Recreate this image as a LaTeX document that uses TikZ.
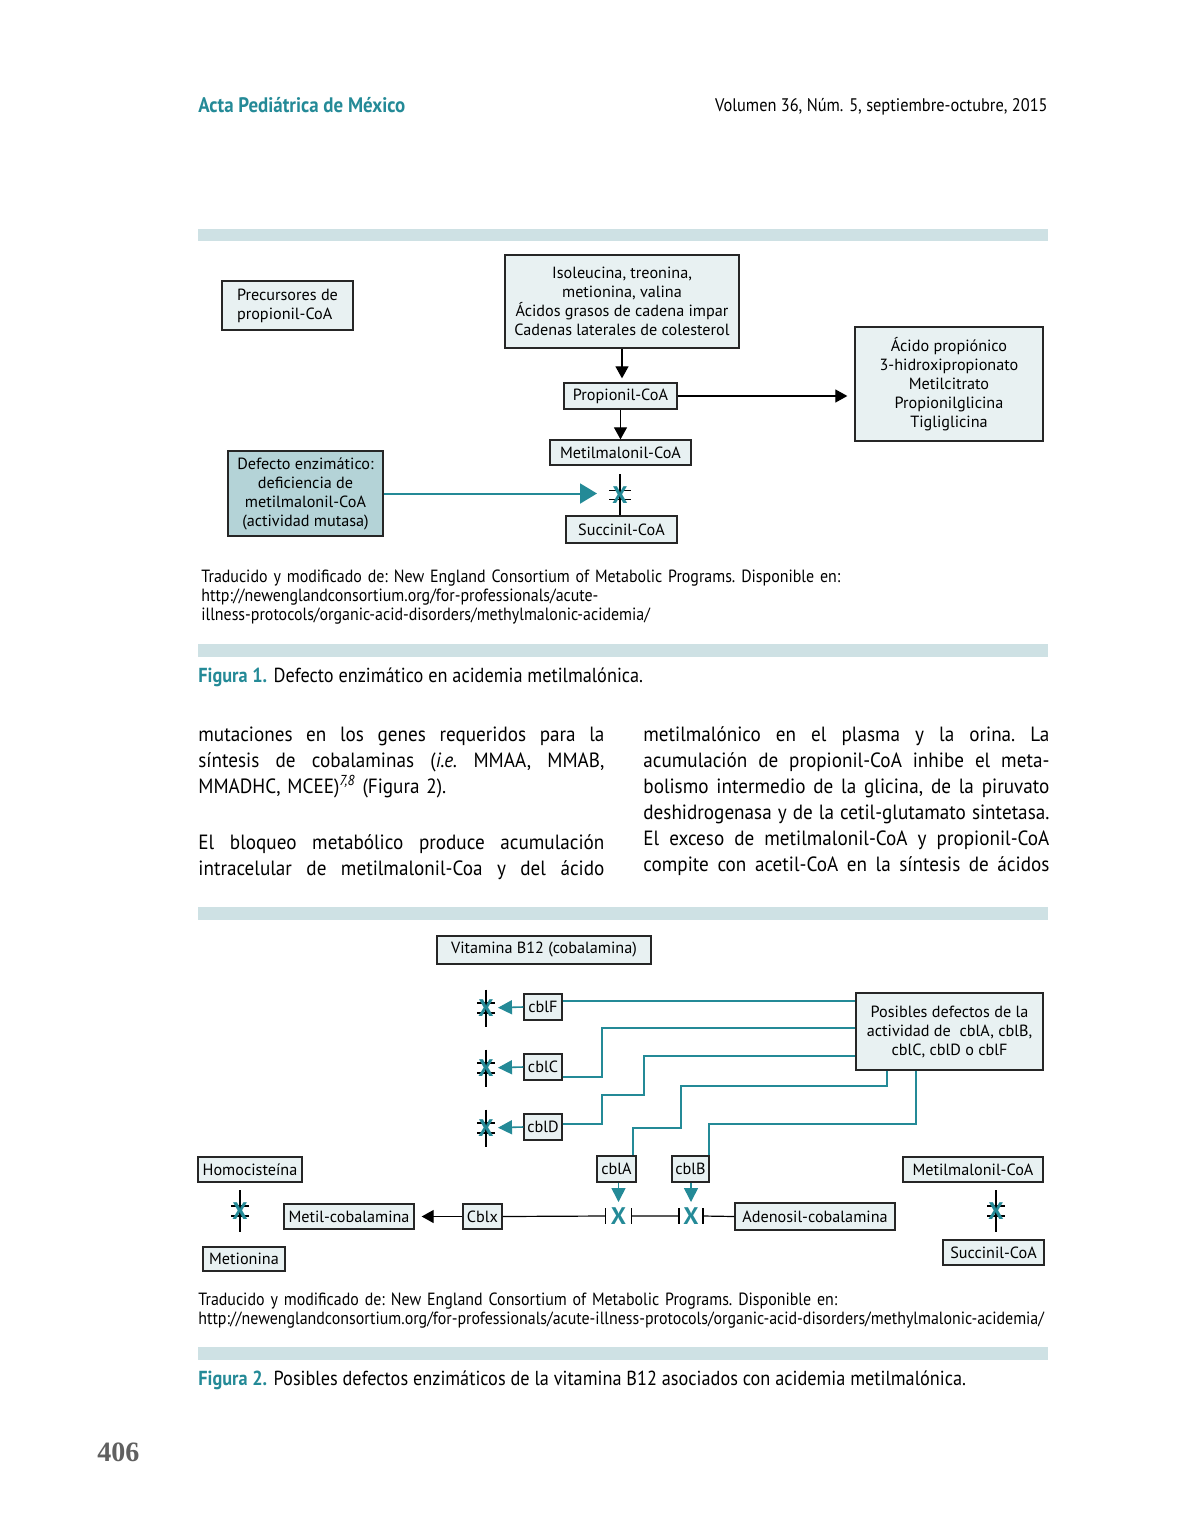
\documentclass[tikz,border=0pt]{standalone}
\usepackage{fontspec}
\setmainfont{PT Sans}
\newfontfamily\narrowfont[FakeStretch=0.9]{PT Sans}
\newfontfamily\bodyfont[FakeStretch=0.93]{PT Sans}
\newfontfamily\numfont{Liberation Serif}
\usetikzlibrary{positioning,arrows.meta,calc}
\definecolor{actateal}{RGB}{36,138,151}
\definecolor{barblue}{RGB}{206,225,228}
\definecolor{boxfill}{RGB}{232,241,242}
\definecolor{defectfill}{RGB}{180,211,215}
\definecolor{pagegray}{RGB}{96,96,96}
\newcommand\jline[1]{\makebox[203pt][s]{\spaceskip=0pt\xspaceskip=0pt #1}}

\begin{document}
\begin{tikzpicture}[x=0.5pt,y=-0.5pt,font=\fontsize{8.1}{9.5}\selectfont,
		box/.style={draw=black!85,fill=boxfill,line width=0.65pt,inner sep=0pt,align=center},
		bar/.style={fill=barblue},
		thinline/.style={line width=0.6pt},
		arr/.style={thinline,-{Triangle[length=6pt,width=6.5pt]}},
		tline/.style={actateal,line width=0.8pt},
		tarr/.style={tline,-{Triangle[length=7pt,width=7pt]}},
		xmark/.style={actateal,font=\bfseries\fontsize{12}{12}\selectfont,inner sep=0pt},
		body/.style={anchor=base west,inner sep=0pt,text width=203pt,align=left,
			font=\bodyfont\frenchspacing\fontsize{10.3}{13}\selectfont},
		note/.style={anchor=base west,inner sep=0pt,text width=450pt,align=left,
			font=\narrowfont\frenchspacing\fontsize{8.85}{9.5}\selectfont},
		caption/.style={anchor=base west,inner sep=0pt,font=\narrowfont\fontsize{10.15}{12}\selectfont}]
	\fill[white] (0,0) rectangle (1191,1531);
	% header
	\node[anchor=base west,inner sep=0pt,actateal,font=\narrowfont\bfseries\fontsize{10.5}{12}\selectfont] (journal) at (198,112) {Acta Pediátrica de México};
	\node[anchor=base east,inner sep=0pt,font=\narrowfont\fontsize{9.1}{12}\selectfont] (issue) at (1048,111) {Volumen 36, Núm. 5, septiembre-octubre, 2015};
	% figure 1
	\fill[bar] (198,229) rectangle (1048,241);
	\node[box,minimum width=65.5pt,minimum height=24.5pt,align=left] (prec) at (287.5,305.5) {Precursores de\\propionil-CoA};
	\node[box,minimum width=117pt,minimum height=46.5pt] (iso) at (622,301.5) {Isoleucina, treonina,\\metionina, valina\\Ácidos grasos de cadena impar\\Cadenas laterales de colesterol};
	\node[box,minimum width=56.5pt,minimum height=13pt] (prop) at (620.5,396) {Propionil-CoA};
	\node[box,minimum width=70.5pt,minimum height=12.5pt] (metil) at (620.5,452.5) {Metilmalonil-CoA};
	\node[box,minimum width=55.5pt,minimum height=13.5pt] (succ) at (621.5,529.5) {Succinil-CoA};
	\node[box,minimum width=94pt,minimum height=57pt] (acid) at (949,384) {Ácido propiónico\\3-hidroxipropionato\\Metilcitrato\\Propionilglicina\\Tigliglicina};
	\node[box,fill=defectfill,minimum width=77.5pt,minimum height=42.5pt] (defect) at (305.5,493.5) {Defecto enzimático:\\deficiencia de\\metilmalonil-CoA\\(actividad mutasa)};
	\draw[arr,shorten >=2pt] (iso.south) -- (iso.south |- prop.north);
	\draw[arr] (prop) -- (metil);
	\draw[arr,shorten >=3.5pt] (prop.east) -- (prop.east -| acid.west);
	\coordinate (blk-1) at (620,495);
	\draw[tline,line width=1pt,-{Triangle[length=8.5pt,width=10pt]}] (defect.east) -- ($(defect.east -| blk-1)+(-23,0)$);
	\draw[thinline] ($(blk-1)+(0,-21)$) -- (blk-1 |- succ.north)
		($(blk-1)+(-11,-4.5)$) -- ++(22,0) ($(blk-1)+(-11,4.5)$) -- ++(22,0);
	\node[xmark] (X-1) at (blk-1) {X};
	\node[note] (src-1) at (201,582) {Traducido y modificado de: New England Consortium of Metabolic Programs. Disponible en:\\http://newenglandconsortium.org/for-professionals/acute-\\illness-protocols/organic-acid-disorders/methylmalonic-acidemia/};
	\fill[bar] (198,644) rectangle (1048,657);
	\node[caption] (cap-1) at (198,682) {\textcolor{actateal}{\bfseries Figura 1.} Defecto enzimático en acidemia metilmalónica.};
	% running text
	\node[body] (col-1) at (198,741) {\jline{mutaciones en los genes requeridos para la}\\
		\jline{síntesis de cobalaminas (\textit{i.e.} MMAA, MMAB,}\\
		MMADHC, MCEE)\textsuperscript{\textit{7,8}} (Figura 2).\\[15pt]
		\jline{El bloqueo metabólico produce acumulación}\\
		\jline{intracelular de metilmalonil-Coa y del ácido}};
	\node[body] (col-2) at (643,741) {\jline{metilmalónico en el plasma y la orina. La}\\
		\jline{acumulación de propionil-CoA inhibe el meta-}\\
		\jline{bolismo intermedio de la glicina, de la piruvato}\\
		\jline{deshidrogenasa y de la cetil-glutamato sintetasa.}\\
		\jline{El exceso de metilmalonil-CoA y propionil-CoA}\\
		\jline{compite con acetil-CoA en la síntesis de ácidos}};
	% figure 2
	\fill[bar] (198,907) rectangle (1048,920);
	\node[box,minimum width=107pt,minimum height=14pt] (vit) at (544,950) {Vitamina B12 (cobalamina)};
	\node[box,minimum width=93.5pt,minimum height=38.5pt] (pos) at (949.5,1031.5) {Posibles defectos de la\\actividad de\ \ cblA, cblB,\\cblC, cblD o cblF};
	\foreach \N/\Y in {F/1007,C/1067,D/1127}{
		\node[box,minimum width=19pt,minimum height=13pt] (cbl-\N) at (543,\Y) {cbl\N};
		\coordinate (blk-\N) at (486,\Y+1);
		\draw[tarr,shorten >=6pt] (cbl-\N.west) -- (blk-\N);
	}
	\node[box,minimum width=19.5pt,minimum height=13pt] (cbl-A) at (616.5,1169) {cblA};
	\node[box,minimum width=18.5pt,minimum height=13pt] (cbl-B) at (690.5,1169) {cblB};
	\node[box,minimum width=52pt,minimum height=12.5pt] (homo) at (250,1169.5) {Homocisteína};
	\node[box,minimum width=41pt,minimum height=12pt] (meti) at (244,1259) {Metionina};
	\node[box,minimum width=65pt,minimum height=12.5pt] (metcob) at (349,1216.5) {Metil-cobalamina};
	\node[box,minimum width=19.5pt,minimum height=12.5pt] (cblx) at (482.5,1216.5) {Cblx};
	\node[box,minimum width=80pt,minimum height=13.5pt] (adeno) at (815,1216.5) {Adenosil-cobalamina};
	\node[box,minimum width=70pt,minimum height=12.5pt] (mmc) at (973,1169.5) {Metilmalonil-CoA};
	\node[box,minimum width=50.5pt,minimum height=12.5pt] (succ-2) at (993.5,1252.5) {Succinil-CoA};
	% teal connectors
	\draw[tline] ([yshift=3pt]cbl-F.east) -- ([yshift=3pt]cbl-F.east -| pos.west);
	\coordinate (c-1) at (602,1028);
	\draw[tline] ([yshift=-5pt]cbl-C.east) -| (c-1) -- (c-1 -| pos.west);
	\coordinate (c-2) at (644,1056);
	\draw[tline] ([yshift=1.5pt]cbl-D.east) -| (602,1095) -| (c-2) -- (c-2 -| pos.west);
	\draw[tline] ([xshift=-31.25pt]pos.south) |- (681,1086) |- (633,1128) -- ([xshift=8.25pt]cbl-A.north);
	\draw[tline] ([xshift=-16.75pt]pos.south) |- (709,1124) -- ([xshift=9.25pt]cbl-B.north);
	% cobalamin line
	\coordinate (blk-A) at (618.5,1216);
	\coordinate (blk-B) at (691,1216);
	\coordinate (blk-H) at (240,1211);
	\coordinate (blk-M) at (996,1211);
	\draw[arr,shorten >=3.5pt] (cblx.west) -- (metcob.east);
	\draw[thinline] (cblx.east) -- ($(blk-A)+(-13,0)$) ($(blk-A)+(13,0)$) -- ($(blk-B)+(-12,0)$) ($(blk-B)+(12,0)$) -- (adeno.west);
	\foreach \P/\D in {blk-A/13,blk-B/12}
		\draw[thinline] ($(\P)+(-\D,-8)$) -- ++(0,16) ($(\P)+(\D,-8)$) -- ++(0,16);
	\foreach \P in {A,B}{
		\draw[tarr,shorten >=7pt] (cbl-\P.south -| blk-\P) -- (blk-\P);
		\node[xmark] (X-\P) at (blk-\P) {X};
	}
	% blocked steps
	\foreach \P/\H in {F/18.5,C/18.5,D/18.5,H/21,M/21}{
		\draw[thinline] ($(blk-\P)+(0,-\H)$) -- ($(blk-\P)+(0,\H)$)
			($(blk-\P)+(-9,-5)$) -- ++(18,0) ($(blk-\P)+(-9,5)$) -- ++(18,0);
		\node[xmark] (X-\P) at (blk-\P) {X};
	}
	\node[note] (src-2) at (198,1305) {Traducido y modificado de: New England Consortium of Metabolic Programs. Disponible en:\\http://newenglandconsortium.org/for-professionals/acute-illness-protocols/organic-acid-disorders/methylmalonic-acidemia/};
	\fill[bar] (198,1347) rectangle (1048,1360);
	\node[caption] (cap-2) at (198,1385) {\textcolor{actateal}{\bfseries Figura 2.} Posibles defectos enzimáticos de la vitamina B12 asociados con acidemia metilmalónica.};
	\node[anchor=base west,inner sep=0pt,pagegray,font=\numfont\bfseries\fontsize{14}{14}\selectfont] (pageno) at (97,1461) {406};
\end{tikzpicture}
\end{document}
